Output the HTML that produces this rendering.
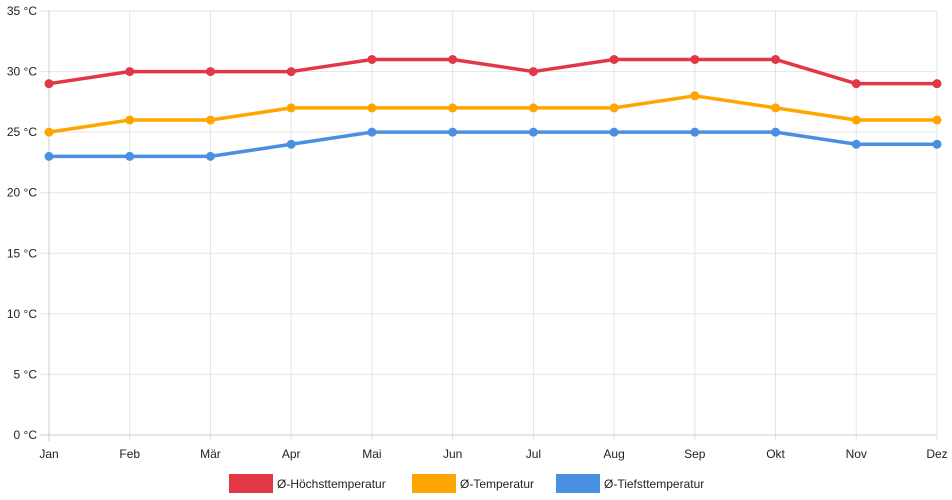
<!DOCTYPE html>
<html><head><meta charset="utf-8"><style>
body{margin:0;background:#fff;font-family:"Liberation Sans",sans-serif}
svg{display:block}
</style></head><body>
<svg id="c" width="952" height="500" font-family="Liberation Sans, sans-serif" font-size="12" fill="#666"></svg>
<script>
const months=["Jan","Feb","Mär","Apr","Mai","Jun","Jul","Aug","Sep","Okt","Nov","Dez"];
const highs=[29,30,30,30,31,31,30,31,31,31,29,29];
const avgs=[25,26,26,27,27,27,27,27,28,27,26,26];
const lows=[23,23,23,24,25,25,25,25,25,25,24,24];
const yTicks=[0,5,10,15,20,25,30,35];
const seriesNames=["Ø-Höchsttemperatur","Ø-Temperatur","Ø-Tiefsttemperatur"];
const colors=["#e23744","#ffa500","#4a90e2"];
const svg=document.getElementById('c');
const NS="http://www.w3.org/2000/svg";
const x0=49,x1=937,y0=435,y1=11;
const xs=i=>x0+(x1-x0)*i/(months.length-1);
const ys=v=>y0-(y0-y1)*v/35;
function mk(t,a,p){const e=document.createElementNS(NS,t);for(const k in a)e.setAttribute(k,a[k]);(p||svg).appendChild(e);return e;}
yTicks.forEach(v=>{
 const g=mk('line',{x1:40,x2:x1,y1:ys(v),y2:ys(v),stroke:'#e5e5e5','stroke-width':1});
 
 
 const t=mk('text',{x:37,y:ys(v)+4,'text-anchor':'end',fill:'#222'});t.textContent=v+' °C';
 
 
});
months.forEach((m,i)=>{
 const g=mk('line',{x1:xs(i),x2:xs(i),y1:y1,y2:y0+6,stroke:'#e5e5e5','stroke-width':1});
 
 
 const t=mk('text',{x:xs(i),y:458,'text-anchor':'middle',fill:'#222'});t.textContent=m;
 
 
});
const ax=mk('line',{x1:x0,x2:x0,y1:y1,y2:y0+6,stroke:'#ccc'});


const bx=mk('line',{x1:40,x2:x1,y1:y0,y2:y0,stroke:'#ccc'});


[lows,avgs,highs].forEach((data,k)=>{
 const ci=2-k;
 const p=mk('polyline',{points:data.map((v,i)=>xs(i)+','+ys(v)).join(' '),fill:'none',stroke:colors[ci],'stroke-width':3.5,'stroke-linejoin':'round'});
 
 
 data.forEach((v,i)=>{
  const c=mk('circle',{cx:xs(i),cy:ys(v),r:4.5,fill:colors[ci]});
  
  
 });
});
const lx=[229,412,556];
seriesNames.forEach((n,i)=>{
 const r=mk('rect',{x:lx[i],y:474,width:44,height:19,fill:colors[i]});
 
 
 const t=mk('text',{x:lx[i]+48,y:488,fill:'#222'});t.textContent=n;
 
 
});
</script>
</body></html>
